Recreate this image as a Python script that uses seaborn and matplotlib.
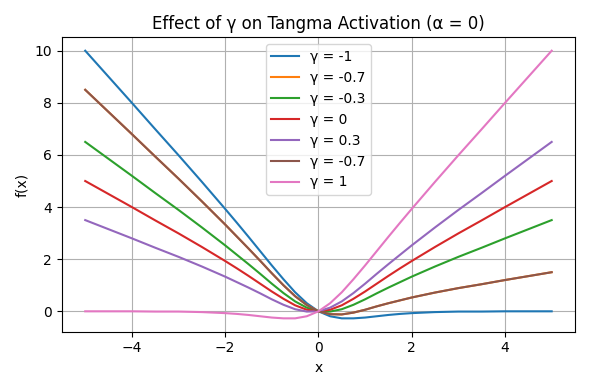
import numpy as np
import seaborn as sns
import matplotlib.pyplot as plt

# x sample positions
x = [-5, -4.5, -4, -3.5, -3, -2.5, -2, -1.75, -1.5, -1.25, -1, -0.75, -0.5, -0.25, 0,
     0.25, 0.5, 0.75, 1, 1.25, 1.5, 1.75, 2, 2.5, 3, 3.5, 4, 4.5, 5]

# f(x) values for each gamma curve
y_g_m1 = [10.00, 9.00, 8.00, 6.99, 5.99, 4.97, 3.93, 3.40, 2.86, 2.31, 1.76, 1.23, 0.73, 0.31, 0,
          -0.19, -0.27, -0.27, -0.24, -0.19, -0.14, -0.10, -0.07, -0.03, -0.01, -0.01, 0.00, 0.00, 0.00]
y_g_m07 = [8.50, 7.65, 6.80, 5.94, 5.09, 4.22, 3.33, 2.87, 2.41, 1.94, 1.46, 1.00, 0.58, 0.24, 0,
           -0.11, -0.12, -0.05, 0.06, 0.19, 0.31, 0.42, 0.53, 0.72, 0.89, 1.04, 1.20, 1.35, 1.50]
y_g_m03 = [6.50, 5.85, 5.20, 4.54, 3.89, 3.22, 2.53, 2.17, 1.81, 1.44, 1.06, 0.70, 0.38, 0.14, 0,
           -0.01, 0.08, 0.25, 0.46, 0.69, 0.91, 1.12, 1.33, 1.72, 2.09, 2.44, 2.80, 3.15, 3.50]
y_g_0 = [5.00, 4.50, 4.00, 3.49, 2.99, 2.47, 1.93, 1.65, 1.36, 1.06, 0.76, 0.48, 0.23, 0.06, 0,
         0.06, 0.23, 0.48, 0.76, 1.06, 1.36, 1.65, 1.93, 2.47, 2.99, 3.49, 4.00, 4.50, 5.00]
y_g_03 = [3.50, 3.15, 2.80, 2.44, 2.09, 1.72, 1.33, 1.12, 0.91, 0.69, 0.46, 0.25, 0.08, -0.01, 0,
          0.14, 0.38, 0.70, 1.06, 1.44, 1.81, 2.17, 2.53, 3.22, 3.89, 4.54, 5.20, 5.85, 6.50]
y_g_1 = [0.00, 0.00, 0.00, -0.01, -0.01, -0.03, -0.07, -0.10, -0.14, -0.19, -0.24, -0.27, -0.27, -0.19, 0,
         0.31, 0.73, 1.23, 1.76, 2.31, 2.86, 3.40, 3.93, 4.97, 5.99, 6.99, 8.00, 9.00, 10.00]

labels = ["γ = -1", "γ = -0.7", "γ = -0.3", "γ = 0", "γ = 0.3", "γ = -0.7", "γ = 1"]
series = [y_g_m1, y_g_m07, y_g_m03, y_g_0, y_g_03, y_g_m07, y_g_1]
colors = ["#1f77b4", "#ff7f0e", "#2ca02c", "#d62728", "#9467bd", "#8c564b", "#e377c2"]

fig, ax = plt.subplots(figsize=(5.9, 3.9), dpi=100)
for ys, lab, c in zip(series, labels, colors):
    sns.lineplot(x=x, y=ys, label=lab, color=c, ax=ax, linewidth=1.5)

ax.set_title("Effect of γ on Tangma Activation (α = 0)")
ax.set_xlabel("x")
ax.set_ylabel("f(x)")
ax.grid(True)
ax.legend(loc="upper center")

plt.tight_layout()
plt.savefig("out.png")
